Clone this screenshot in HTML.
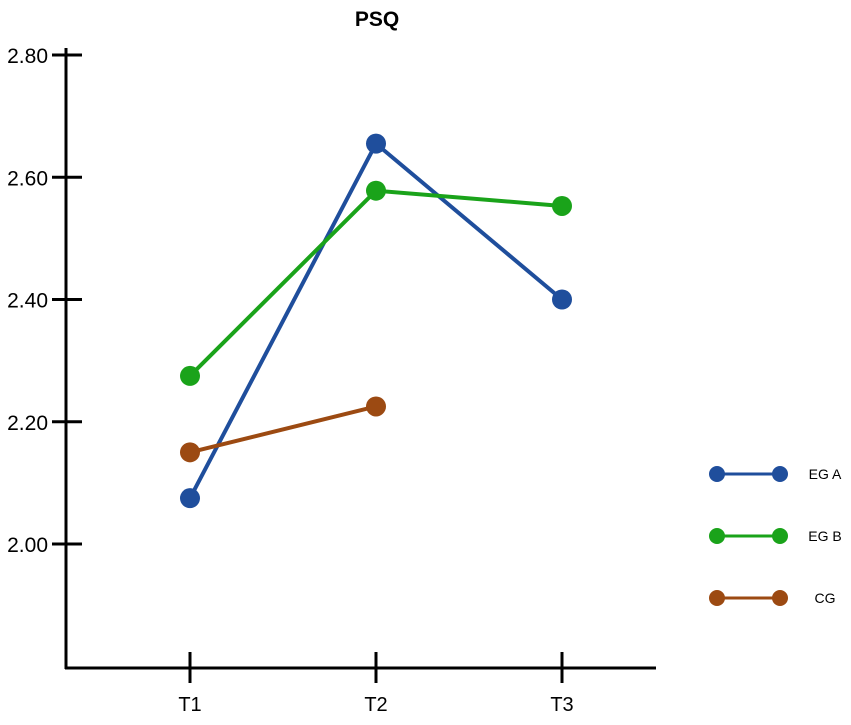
<!DOCTYPE html>
<html><head><meta charset="utf-8"><style>body{margin:0;background:#fff}svg text{font-family:"Liberation Sans",sans-serif}</style></head>
<body>
<svg id="chart" width="851" height="720" xmlns="http://www.w3.org/2000/svg">
<text x="377" y="26" text-anchor="middle" font-size="21" font-weight="bold">PSQ</text>
<g id="axes" stroke="#000" stroke-width="3"></g>
<g id="plot"></g>
<g id="legend"></g>
</svg>
<script>
const categories = ["T1","T2","T3"];
const yTicks = [2.00, 2.20, 2.40, 2.60, 2.80];
const egA = [2.075, 2.655, 2.40];
const egB = [2.275, 2.578, 2.553];
const cg = [2.15, 2.225, null];
const seriesNames = ["EG A","EG B","CG"];
const seriesColors = ["#1f4e9c","#1aa31a","#9c4a12"];
const NS = "http://www.w3.org/2000/svg";
function x(i){ return 190 + i*186; }
function y(v){ return 544 - (v-2.0)*611.25; }
function mk(tag, attrs, parent){ const e=document.createElementNS(NS,tag); for(const k in attrs) e.setAttribute(k,attrs[k]); parent.appendChild(e); return e; }
const axes=document.getElementById('axes'), plot=document.getElementById('plot'), legend=document.getElementById('legend');
let a=mk('line',{x1:66,y1:48,x2:66,y2:669},axes);


a=mk('line',{x1:65,y1:668,x2:656,y2:668},axes);


yTicks.forEach(v=>{
  const t=mk('line',{x1:52,y1:y(v),x2:82,y2:y(v)},axes);
  
  
  const l=mk('text',{x:48,y:y(v)+8,'text-anchor':'end','font-size':'21',stroke:'none'},axes);
  l.textContent=v.toFixed(2);
  
  
});
categories.forEach((c,i)=>{
  const t=mk('line',{x1:x(i),y1:652,x2:x(i),y2:683},axes);
  
  
  const l=mk('text',{x:x(i),y:711,'text-anchor':'middle','font-size':'20',stroke:'none'},axes);
  l.textContent=c;
  
  
});
[egA,egB,cg].forEach((s,si)=>{
  const col=seriesColors[si];
  const pts=s.map((v,i)=>v==null?null:[x(i),y(v)]).filter(p=>p);
  const pl=mk('polyline',{points:pts.map(p=>p.join(',')).join(' '),fill:'none',stroke:col,'stroke-width':4},plot);
  
  
  pts.forEach(p=>{
    const c=mk('circle',{cx:p[0],cy:p[1],r:10,fill:col},plot);
    
    
  });
  const ly=474+si*62;
  const g=mk('g',{},legend);
  
  
  mk('line',{x1:717,y1:ly,x2:780,y2:ly,stroke:col,'stroke-width':3},g);
  mk('circle',{cx:717,cy:ly,r:8,fill:col},g);
  mk('circle',{cx:780,cy:ly,r:8,fill:col},g);
  const t=mk('text',{x:825,y:ly+5,'text-anchor':'middle','font-size':'14'},g);
  t.textContent=seriesNames[si];
});
</script>
</body></html>
